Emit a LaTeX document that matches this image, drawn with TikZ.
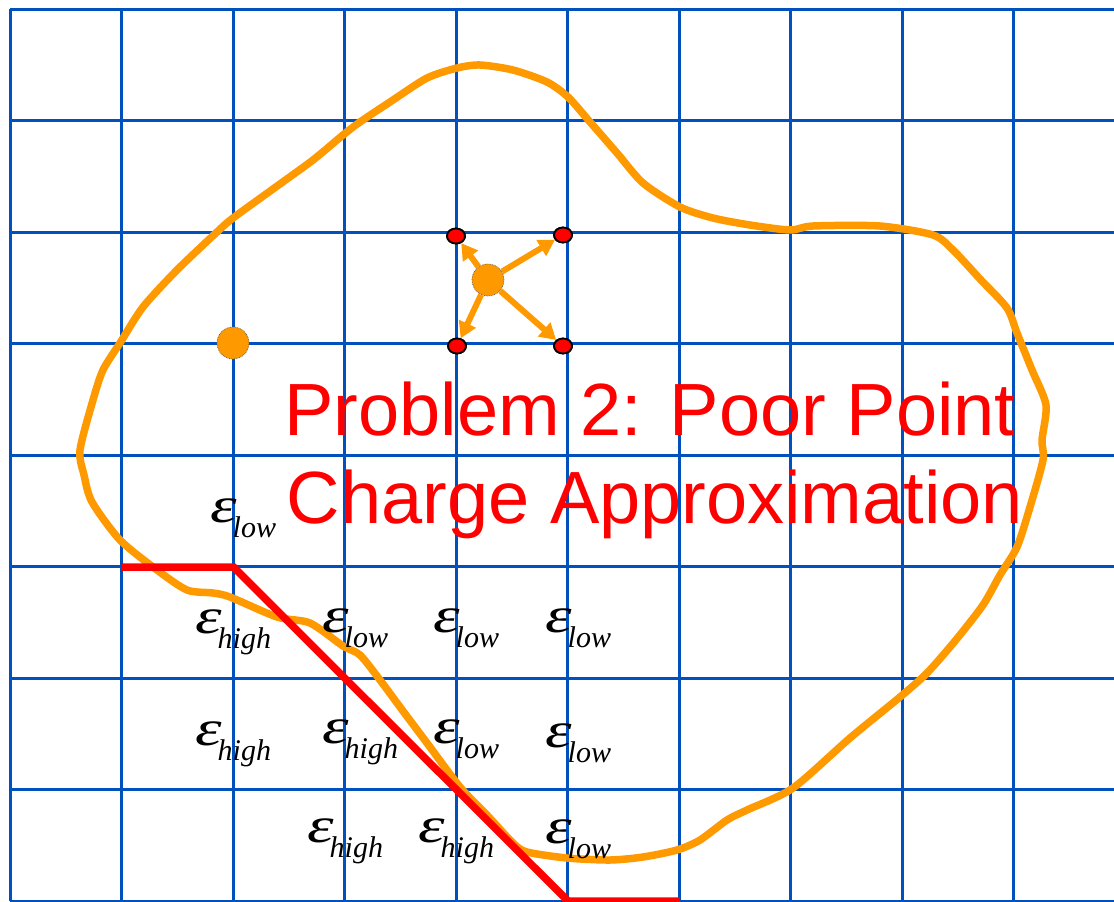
\documentclass[tikz,border=0pt]{standalone}
\usepackage{fontspec}
\setmainfont{Liberation Sans}
\newfontfamily\tmsfont{Liberation Serif}
\usetikzlibrary{arrows.meta,shapes.geometric}
\definecolor{gridblue}{RGB}{0,80,190}
\definecolor{chgorange}{RGB}{255,153,0}
\definecolor{bndred}{RGB}{255,0,0}
\newcommand{\epslab}[1]{{\tmsfont\itshape\fontsize{48}{48}\selectfont \scalebox{1.4}[1.05]{ε}\kern-4pt\raisebox{-15pt}{\fontsize{30}{30}\selectfont #1}}}
\begin{document}
\begin{tikzpicture}[x=1pt,y=-1pt,
  gridline/.style={draw=gridblue,line width=3pt},
  surface/.style={draw=chgorange,line width=7.5pt,line join=round},
  boundary/.style={draw=bndred,line width=7.5pt,line join=miter},
  bigcharge/.style={circle,fill=chgorange,draw={rgb,255:red,90;green,90;blue,90},line width=0.7pt,densely dotted,minimum size=32pt,inner sep=0pt},
  reddot/.style={ellipse,fill=bndred,draw=black,line width=1.8pt,minimum width=18pt,minimum height=15pt,inner sep=0pt},
  spread/.style={draw=chgorange,line width=6pt,-{Triangle[length=16pt,width=18pt]}},
  epsnode/.style={anchor=base west,inner sep=0pt,text=black},
  titletext/.style={anchor=base,inner sep=0pt,text=bndred,font=\fontsize{74}{88}\selectfont}]
\useasboundingbox (0,0) rectangle (1114,902);
\fill[white] (0,0) rectangle (1114,902);
% grid
\foreach \i in {0,...,9}
  \draw[gridline] ({10+111.5*\i},9) -- ({10+111.5*\i},901);
\foreach \j in {0,...,8}
  \draw[gridline] (10,{9+111.5*\j}) -- (1114,{9+111.5*\j});
% molecular surface
\draw[surface] plot[smooth cycle,tension=0.45] coordinates {
 (480,65) (513,70) (547,82) (568,97) (590,122) (617,153) (643,183) (680,207)
 (713,218) (750,225) (790,230) (813,226) (880,226) (933,235) (953,250) (980,279)
 (1007,308) (1017,333) (1032,370) (1046,405) (1042,440) (1043,460) (1030,507)
 (1017,547) (1000,575) (983,605) (955,641) (927,673) (900,697) (850,738) (793,788)
 (747,810) (727,820) (700,840) (677,850) (643,857) (610,860) (567,858) (527,852)
 (513,843) (487,815) (460,787) (427,743) (400,707) (380,680) (360,655) (343,646)
 (310,623) (277,617) (230,597) (213,593) (187,590) (157,570) (120,540) (92,502)
 (84,475) (80,450) (93,400) (103,370) (120,343) (143,307) (177,270) (217,232)
 (233,218) (273,189) (313,160) (343,135) (360,122) (393,100) (427,78) (457,68)};
% dielectric boundary
\coordinate (b1) at (122,567);
\coordinate (b2) at (233.5,567);
\coordinate (b3) at (568,901);
\coordinate (b4) at (680,901);
\draw[boundary] (b1) -- (b2) -- (b3) -- (b4);
% charges
\node[bigcharge] (qa) at (233,343) {};
\node[bigcharge] (qb) at (488,280) {};
\node[reddot] (c1) at (456,236) {};
\node[reddot] (c2) at (563,235) {};
\node[reddot] (c3) at (457,346) {};
\node[reddot] (c4) at (563,346) {};
\draw[spread] (qb) -- (c1);
\draw[spread] (qb) -- (c2);
\draw[spread] (qb) -- (c3);
\draw[spread] (qb) -- (c4);
\node[reddot] at (c1) {};
\node[reddot] at (c2) {};
\node[reddot] at (c3) {};
\node[reddot] at (c4) {};
% title
\node[titletext] (t1) at (650,435) {Problem 2: Poor Point};
\node[titletext] (t2) at (655,523) {Charge Approximation};
% permittivity labels
\node[epsnode] (e1) at (210,522) {\epslab{low}};
\node[epsnode] (e2) at (195,633) {\epslab{high}};
\node[epsnode] (e3) at (322,632) {\epslab{low}};
\node[epsnode] (e4) at (433,632) {\epslab{low}};
\node[epsnode] (e5) at (545,632) {\epslab{low}};
\node[epsnode] (e6) at (195,745) {\epslab{high}};
\node[epsnode] (e7) at (322,743) {\epslab{high}};
\node[epsnode] (e8) at (433,743) {\epslab{low}};
\node[epsnode] (e9) at (545,747) {\epslab{low}};
\node[epsnode] (e10) at (307,842) {\epslab{high}};
\node[epsnode] (e11) at (418,842) {\epslab{high}};
\node[epsnode] (e12) at (545,843) {\epslab{low}};
\end{tikzpicture}
\end{document}
